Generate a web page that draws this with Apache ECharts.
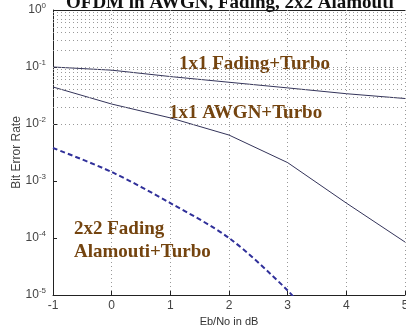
<!DOCTYPE html>
<html>
<head>
<meta charset="utf-8">
<script src="https://cdn.jsdelivr.net/npm/echarts@6/dist/echarts.min.js"></script>
<style>
  html, body { margin: 0; padding: 0; background: #fff; }
  #chart { width: 406px; height: 329px; }
</style>
</head>
<body>
<div id="chart"></div>
<script>
// Eb/No points (dB)
const ebno = [-1, 0, 1, 2, 3, 4, 5]
const fadingTurbo = [0.1, 0.088, 0.068, 0.054, 0.043, 0.034, 0.028]
const awgnTurbo = [0.0446, 0.0224, 0.0128, 0.0064, 0.0021, 0.00041, 0.000085]
const alamoutiEbno = [-1, 0, 1, 2, 3, 3.5]
const alamoutiTurbo = [0.0038, 0.00144, 0.00041, 0.0001, 0.000012, 0.000003]
const decades = [0.00001, 0.0001, 0.001, 0.01, 0.1]
const minorSteps = [2, 3, 4, 5, 6, 7, 8, 9]

const chart = echarts.init(document.getElementById('chart'))

const pair = (xs, ys) => xs.map((x, i) => [x, ys[i]])

// log grid lines like matlab's "grid on"
const gridValues = []
decades.forEach(d => {
  gridValues.push(d)
  minorSteps.forEach(m => gridValues.push(d * m))
})

const labelStyle = {
  fontFamily: 'Liberation Serif',
  fontWeight: 'bold',
  fontSize: 19,
  fill: '#74440f'
}

const option = {
  backgroundColor: '#fff',
  animation: false,
  title: {
    text: 'OFDM in AWGN, Fading, 2x2 Alamouti',
    left: 61,
    top: -11,
    textStyle: {
      fontFamily: 'Liberation Serif',
      fontWeight: 'bold',
      fontSize: 19,
      color: '#111'
    }
  },
  grid: { left: 53, right: 1, top: 10, bottom: 34, containLabel: false, outerBoundsMode: 'none' },
  xAxis: {
    type: 'value',
    min: -1,
    max: 5,
    interval: 1,
    name: 'Eb/No in dB',
    nameLocation: 'middle',
    nameGap: 21,
    nameMoveOverlap: false,
    nameTextStyle: { fontFamily: 'Liberation Sans', fontSize: 11, color: '#333' },
    axisLine: { onZero: false, lineStyle: { color: '#222', width: 1 } },
    axisTick: { inside: true, length: 4, lineStyle: { color: '#222' } },
    axisLabel: { fontFamily: 'Liberation Sans', fontSize: 12, color: '#444', margin: 5 },
    splitLine: { show: true, lineStyle: { color: '#999', type: [1, 3] } }
  },
  yAxis: {
    type: 'log',
    logBase: 10,
    min: 0.00001,
    max: 1,
    interval: 1,
    name: 'Bit Error Rate',
    nameLocation: 'middle',
    nameGap: 30,
    nameMoveOverlap: false,
    nameTextStyle: { fontFamily: 'Liberation Sans', fontSize: 12, color: '#444' },
    axisLine: { onZero: false, lineStyle: { color: '#222', width: 1 } },
    axisTick: { inside: true, length: 4, lineStyle: { color: '#222' } },
    axisLabel: {
      color: '#444',
      margin: 7,
      formatter: v => '{b|10}{e|' + Math.round(Math.log10(v)) + '}',
      rich: {
        b: { fontFamily: 'Liberation Sans', fontSize: 12, color: '#444' },
        e: { fontFamily: 'Liberation Sans', fontSize: 8, color: '#444', padding: [0, 0, 8, 0] }
      }
    },
    splitLine: { show: false }
  },
  series: [
    {
      name: 'grid',
      type: 'line',
      data: [],
      silent: true,
      markLine: {
        silent: true,
        symbol: 'none',
        label: { show: false },
        lineStyle: { color: '#999', type: [1, 3], width: 1 },
        data: gridValues.map(v => ({ yAxis: v }))
      }
    },
    {
      name: '1x1 Fading+Turbo',
      type: 'line',
      data: pair(ebno, fadingTurbo),
      showSymbol: false,
      lineStyle: { color: '#34345a', width: 1 }
    },
    {
      name: '1x1 AWGN+Turbo',
      type: 'line',
      data: pair(ebno, awgnTurbo),
      showSymbol: false,
      lineStyle: { color: '#34345a', width: 1 }
    },
    {
      name: '2x2 Fading Alamouti+Turbo',
      type: 'line',
      data: pair(alamoutiEbno, alamoutiTurbo),
      showSymbol: false,
      smooth: 0.3,
      lineStyle: { color: '#30309a', width: 2, type: [5, 3] }
    }
  ],
  graphic: [
    // top box edge
    { type: 'line', shape: { x1: 53, y1: 10.5, x2: 406, y2: 10.5 }, style: { stroke: '#222', lineWidth: 1 } },
    { type: 'text', x: 179, y: 55, style: Object.assign({ text: '1x1 Fading+Turbo' }, labelStyle) },
    { type: 'text', x: 169, y: 104, style: Object.assign({ text: '1x1 AWGN+Turbo' }, labelStyle) },
    { type: 'text', x: 74, y: 220, style: Object.assign({ text: '2x2 Fading' }, labelStyle) },
    { type: 'text', x: 74, y: 243, style: Object.assign({ text: 'Alamouti+Turbo' }, labelStyle) }
  ]
}

chart.setOption(option)
</script>
</body>
</html>
